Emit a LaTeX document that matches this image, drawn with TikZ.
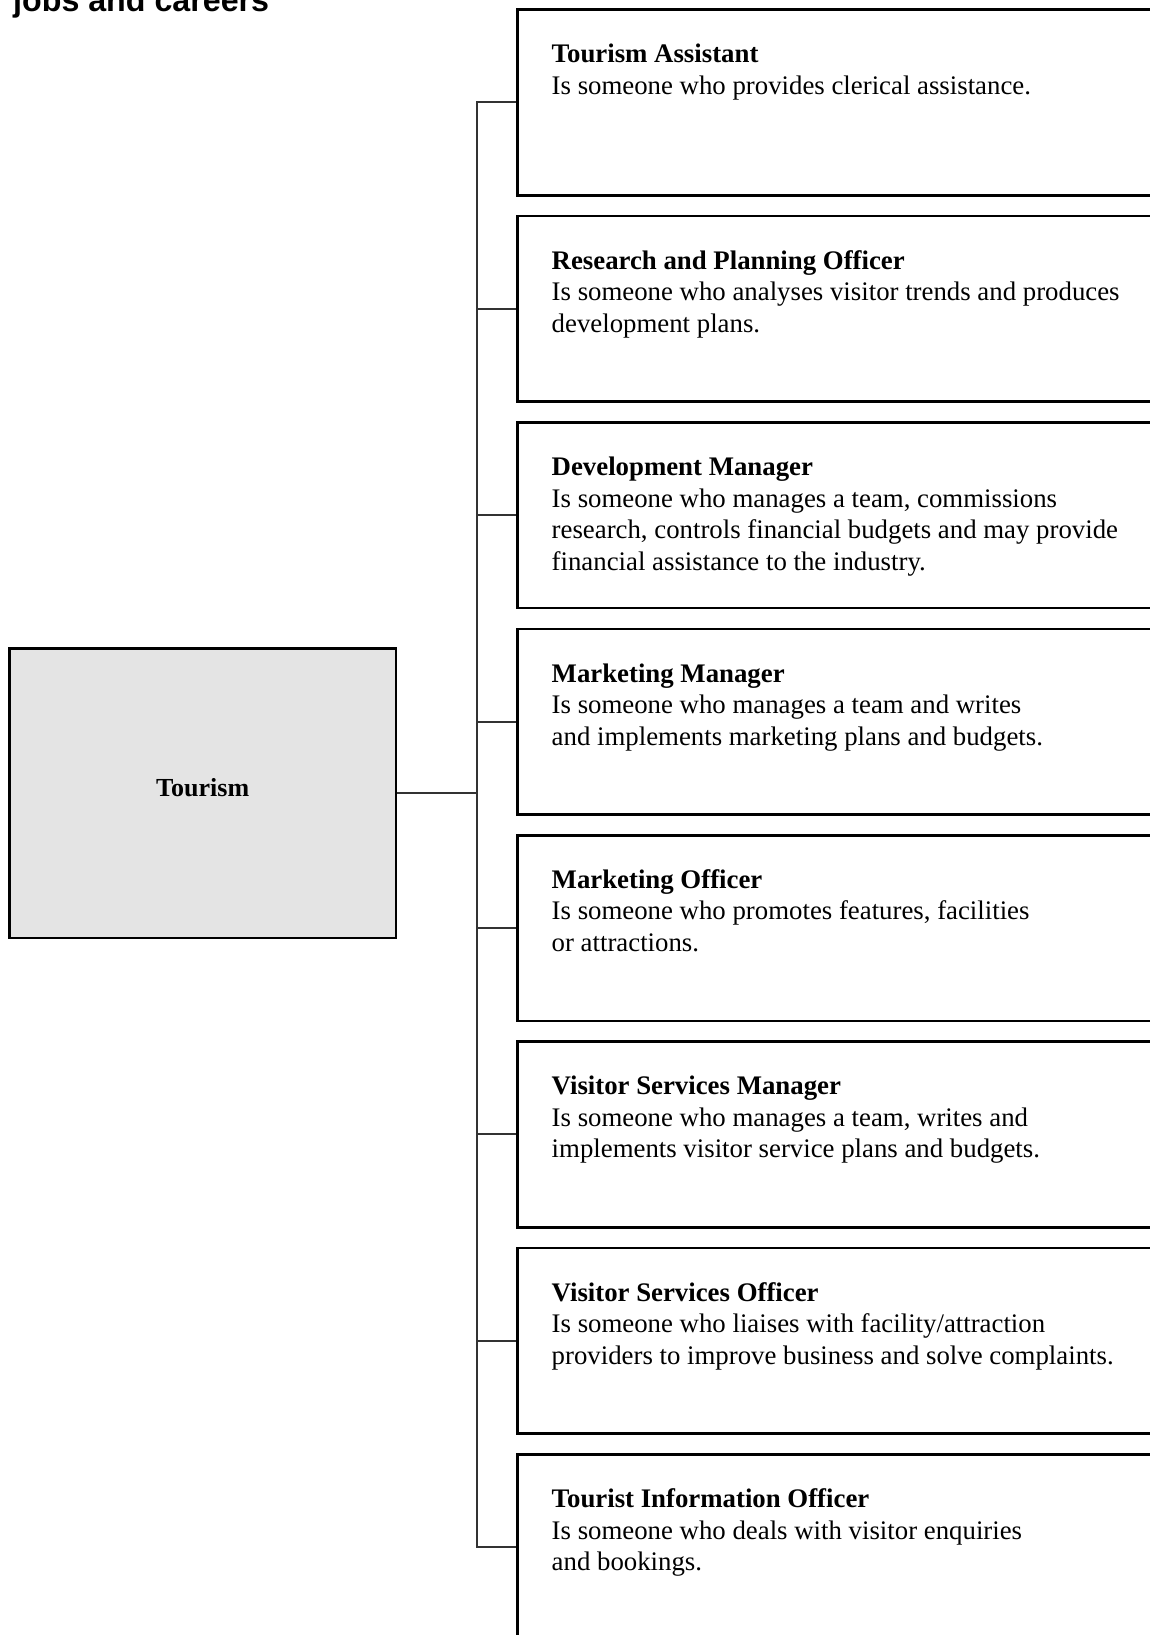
\documentclass[tikz,border=0pt]{standalone}
\usepackage{fontspec}
\setmainfont{Liberation Serif}
\newfontfamily\headfont{Liberation Sans}
\definecolor{rootgrey}{HTML}{E4E4E4}
\definecolor{linkgrey}{HTML}{333333}
\tikzset{
	jobbox/.style={draw=black, line width=2.6pt, minimum width=649pt, minimum height=185.6pt, inner sep=0pt, anchor=north west},
	jobtext/.style={anchor=base west, inner sep=0pt, font=\fontsize{26.8}{31.5}\selectfont},
	rootbox/.style={draw=black, line width=2.6pt, fill=rootgrey, minimum width=386.6pt, minimum height=289.5pt, inner sep=0pt},
	link/.style={draw=linkgrey, line width=2pt}
}
\begin{document}
\begin{tikzpicture}[x=1pt,y=-1pt]
		\useasboundingbox (0,0) rectangle (1150,1635);
		\node [anchor=base west, inner sep=0pt, font=\headfont\bfseries\fontsize{32.2}{38}\selectfont] (title) at (13,11.5) {jobs and careers};
		\node [rootbox] (tourism) at (202.7,793.2) {};
		\node [anchor=base, inner sep=0pt, yshift=-2.8pt, font=\bfseries\fontsize{26}{31}\selectfont] (tourismlabel) at (tourism.center) {Tourism};
		\node [jobbox] (ta) at (516,8.3) {};
		\node [jobbox] (rp) at (516,214.7) {};
		\node [jobbox] (dm) at (516,421.1) {};
		\node [jobbox] (mm) at (516,627.5) {};
		\node [jobbox] (mo) at (516,833.9) {};
		\node [jobbox] (vsm) at (516,1040.3) {};
		\node [jobbox] (vso) at (516,1246.7) {};
		\node [jobbox] (tio) at (516,1453.1) {};
		\node [jobtext] (tatext) at ([shift={(35.5,54.5)}]ta.north west) {\begin{tabular}[t]{@{}l@{}}\textbf{Tourism Assistant}\\Is someone who provides clerical assistance.\end{tabular}};
		\node [jobtext] (rptext) at ([shift={(35.5,54.5)}]rp.north west) {\begin{tabular}[t]{@{}l@{}}\textbf{Research and Planning Officer}\\Is someone who analyses visitor trends and produces\\development plans.\end{tabular}};
		\node [jobtext] (dmtext) at ([shift={(35.5,54.5)}]dm.north west) {\begin{tabular}[t]{@{}l@{}}\textbf{Development Manager}\\Is someone who manages a team, commissions\\research, controls financial budgets and may provide\\financial assistance to the industry.\end{tabular}};
		\node [jobtext] (mmtext) at ([shift={(35.5,54.5)}]mm.north west) {\begin{tabular}[t]{@{}l@{}}\textbf{Marketing Manager}\\Is someone who manages a team and writes\\and implements marketing plans and budgets.\end{tabular}};
		\node [jobtext] (motext) at ([shift={(35.5,54.5)}]mo.north west) {\begin{tabular}[t]{@{}l@{}}\textbf{Marketing Officer}\\Is someone who promotes features, facilities\\or attractions.\end{tabular}};
		\node [jobtext] (vsmtext) at ([shift={(35.5,54.5)}]vsm.north west) {\begin{tabular}[t]{@{}l@{}}\textbf{Visitor Services Manager}\\Is someone who manages a team, writes and\\implements visitor service plans and budgets.\end{tabular}};
		\node [jobtext] (vsotext) at ([shift={(35.5,54.5)}]vso.north west) {\begin{tabular}[t]{@{}l@{}}\textbf{Visitor Services Officer}\\Is someone who liaises with facility/attraction\\providers to improve business and solve complaints.\end{tabular}};
		\node [jobtext] (tiotext) at ([shift={(35.5,54.5)}]tio.north west) {\begin{tabular}[t]{@{}l@{}}\textbf{Tourist Information Officer}\\Is someone who deals with visitor enquiries\\and bookings.\end{tabular}};
		% tree lines
		\coordinate (trunk) at (476.5,0);
		\draw [link] (ta.west) -| (trunk |- tio.west) -- (tio.west);
		\draw [link] (rp.west) -- (rp.west -| trunk);
		\draw [link] (dm.west) -- (dm.west -| trunk);
		\draw [link] (mm.west) -- (mm.west -| trunk);
		\draw [link] (mo.west) -- (mo.west -| trunk);
		\draw [link] (vsm.west) -- (vsm.west -| trunk);
		\draw [link] (vso.west) -- (vso.west -| trunk);
		\draw [link] (tourism.east) -- (tourism.east -| trunk);
\end{tikzpicture}
\end{document}
